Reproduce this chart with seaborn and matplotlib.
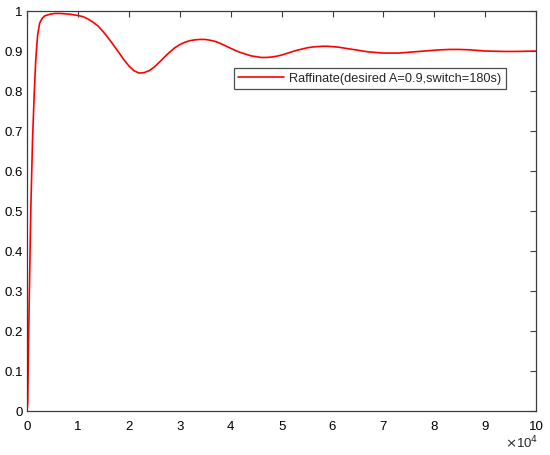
import pandas as pd
import matplotlib
matplotlib.use("Agg")
import matplotlib.pyplot as plt
import seaborn as sns

# values
time_s = [0, 150, 350, 750, 1100, 1450, 1700, 1850, 2100, 2500, 3000, 3500,
          4500, 5500, 6500, 7500, 8500, 9500,
          10000, 11000, 12000, 13000, 14000, 15000, 16000, 17000, 18000, 19000,
          20000, 21000, 22000, 23000, 24000, 25000, 26000, 27000, 28000, 29000,
          30000, 31000, 32000, 33000, 34000, 35000, 36000, 37000, 38000, 39000,
          40000, 41000, 42000, 43000, 44000, 45000, 46000, 47000, 48000, 49000,
          50000, 51000, 52000, 53000, 54000, 55000, 56000, 57000, 58000, 59000,
          60000, 61000, 62000, 63000, 64000, 65000, 66000, 67000, 68000, 69000,
          70000, 71000, 72000, 73000, 74000, 75000, 76000, 77000, 78000, 79000,
          80000, 81000, 82000, 83000, 84000, 85000, 86000, 87000, 88000, 89000,
          90000, 92000, 94000, 96000, 98000, 100000]
raffinate = [0.0, 0.02, 0.2, 0.5, 0.68, 0.8, 0.87, 0.9, 0.94, 0.97, 0.982, 0.988,
             0.992, 0.994, 0.994, 0.993, 0.992, 0.990,
             0.989, 0.986, 0.980, 0.972, 0.962, 0.948, 0.932, 0.915, 0.897, 0.879,
             0.863, 0.851, 0.845, 0.846, 0.851, 0.860, 0.872, 0.885, 0.897, 0.908,
             0.916, 0.922, 0.926, 0.928, 0.929, 0.929, 0.927, 0.924, 0.919, 0.913,
             0.907, 0.901, 0.896, 0.892, 0.888, 0.886, 0.884, 0.884, 0.885, 0.887,
             0.890, 0.894, 0.898, 0.902, 0.905, 0.908, 0.910, 0.911, 0.912, 0.912,
             0.911, 0.910, 0.908, 0.906, 0.904, 0.902, 0.900, 0.898, 0.897, 0.896,
             0.895, 0.895, 0.895, 0.895, 0.896, 0.897, 0.898, 0.899, 0.900, 0.901,
             0.902, 0.903, 0.9035, 0.904, 0.904, 0.904, 0.9035, 0.903, 0.902, 0.901,
             0.900, 0.8995, 0.899, 0.899, 0.8995, 0.900]
legend_label = "Raffinate(desired A=0.9,switch=180s)"
x_ticks = [0, 10000, 20000, 30000, 40000, 50000, 60000, 70000, 80000, 90000, 100000]
x_tick_labels = ["0", "1", "2", "3", "4", "5", "6", "7", "8", "9", "10"]
y_ticks = [0, 0.1, 0.2, 0.3, 0.4, 0.5, 0.6, 0.7, 0.8, 0.9, 1.0]
y_tick_labels = ["0", "0.1", "0.2", "0.3", "0.4", "0.5", "0.6", "0.7", "0.8", "0.9", "1"]

df = pd.DataFrame({"t": time_s, "A": raffinate})

sns.set_style("white")
plt.rcParams['font.family'] = ['Liberation Sans', 'DejaVu Sans']

fig = plt.figure(figsize=(5.5, 4.55), dpi=100)
ax = fig.add_axes([0.049, 0.0967, 0.926, 0.879])

sns.lineplot(data=df, x="t", y="A", color="#ff0000", linewidth=1.2,
             label=legend_label, ax=ax)

ax.set_xlim(0, 100000)
ax.set_ylim(0, 1)
ax.set_xticks(x_ticks)
ax.set_xticklabels(x_tick_labels)
ax.set_yticks(y_ticks)
ax.set_yticklabels(y_tick_labels)
ax.set_xlabel("")
ax.set_ylabel("")

for s in ax.spines.values():
    s.set_color("#3c3c3c")
    s.set_linewidth(0.9)
ax.tick_params(direction="in", length=4, width=0.8, color="#3c3c3c",
               top=True, right=True, labelsize=9.5, labelcolor="black", pad=3)
ax.tick_params(axis="x", pad=7)

ax.text(1.005, -0.06, r"$\times$10$^4$", transform=ax.transAxes,
        ha="right", va="top", fontsize=9.5)

leg = ax.legend(loc="upper right", bbox_to_anchor=(0.953, 0.873), fontsize=9.2,
                frameon=True, fancybox=False, handlelength=3.6,
                borderpad=0.35, handletextpad=0.4)
leg.get_frame().set_edgecolor("#222222")
leg.get_frame().set_linewidth(0.9)

fig.savefig("out.png", dpi=100)
